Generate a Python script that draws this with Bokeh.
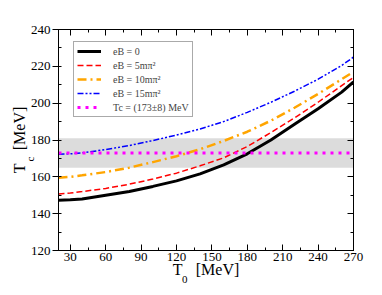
import numpy as np
from bokeh.plotting import figure
from bokeh.models import (Range1d, LinearAxis, SingleIntervalTicker, Legend, LegendItem,
                          BoxAnnotation, Label, CustomJSTickFormatter)
from bokeh.embed import file_html
from bokeh.resources import INLINE

# ---- data ----
T0 = [20, 30, 40, 60, 80, 100, 120, 140, 160, 180, 200, 220, 240, 260, 270]
tc_eB0 = [147.3, 147.5, 148.0, 150.0, 152.0, 154.8, 157.8, 161.6, 166.5, 172.5, 180.0, 188.5, 197.0, 206.0, 211.5]
tc_eB5 = [150.7, 151.2, 152.0, 153.7, 156.0, 158.8, 162.0, 166.0, 170.3, 176.5, 184.0, 192.0, 200.5, 209.5, 214.0]
tc_eB10 = [159.5, 160.0, 160.8, 162.6, 165.0, 168.0, 171.2, 175.0, 179.5, 184.5, 190.5, 197.5, 205.0, 213.0, 217.0]
tc_eB15 = [172.3, 172.5, 173.0, 174.8, 177.0, 179.7, 182.7, 186.0, 190.0, 195.0, 200.5, 206.5, 213.0, 220.5, 225.0]
tc_lattice = 173.0
tc_lattice_err = 8.0
labels = ["eB = 0", "eB = 5mπ²", "eB = 10mπ²", "eB = 15mπ²", "Tc = (173±8) MeV"]

FONT = "Liberation Serif"
W, H = 380, 293
GAP = "\u2002\u00a0\u200a"   # room for the subscript

p = figure(width=W, height=H, output_backend="svg", toolbar_location=None,
           x_range=Range1d(20, 270), y_range=Range1d(120, 240),
           min_border_left=58, min_border_right=W - 353, min_border_top=29, min_border_bottom=H - 250,
           x_axis_location=None, y_axis_location=None)
p.grid.visible = False
p.outline_line_color = "black"
p.outline_line_width = 1
p.background_fill_color = "white"

def make_axis(side, interval, labels_on, major_in, major_out, title=None, title_standoff=0):
    ax = LinearAxis(ticker=SingleIntervalTicker(interval=interval, num_minor_ticks=2))
    ax.axis_line_color = "black"
    ax.major_tick_line_color = "black"
    ax.minor_tick_line_color = "black"
    ax.major_tick_in = major_in
    ax.major_tick_out = major_out
    ax.minor_tick_in = 3
    ax.minor_tick_out = 0
    ax.major_label_text_font = FONT
    ax.major_label_text_font_size = "13px"
    ax.major_label_text_color = "black"
    ax.major_label_standoff = 2
    if not labels_on:
        ax.formatter = CustomJSTickFormatter(code="return '';")
    if title is not None:
        ax.axis_label = title
        ax.axis_label_text_font = FONT
        ax.axis_label_text_font_size = "16px"
        ax.axis_label_text_font_style = "normal"
        ax.axis_label_text_color = "black"
        ax.axis_label_standoff = title_standoff
    p.add_layout(ax, side)
    return ax

make_axis("below", 30, True, 6, 0, "T" + GAP + "[MeV]", -3)
make_axis("left", 20, True, 0, 6, "T" + GAP + "[MeV]", 0)
make_axis("above", 30, False, 6, 0)
make_axis("right", 20, False, 6, 0)

band = BoxAnnotation(bottom=tc_lattice - tc_lattice_err, top=tc_lattice + tc_lattice_err,
                     fill_color="#dcdcdc", fill_alpha=1.0, line_color=None, level="underlay")
p.add_layout(band)

r0 = p.line(T0, tc_eB0, line_color="black", line_width=3)
r1 = p.line(T0, tc_eB5, line_color="#ff0000", line_width=1.5, line_dash="6 3")
r2 = p.line(T0, tc_eB10, line_color="#ffa500", line_width=2.5, line_dash="9 4 2 4")
r3 = p.line(T0, tc_eB15, line_color="#0000ff", line_width=1.5, line_dash="6 2 2 2 2 2")
r4 = p.line([T0[0], T0[-1]], [tc_lattice, tc_lattice], line_color="#ff00ff", line_width=3, line_dash="3 5")

legend = Legend(items=[LegendItem(label=l, renderers=[r]) for l, r in zip(labels, [r0, r1, r2, r3, r4])],
                location=(15, 133), label_text_font=FONT, label_text_font_size="10px",
                label_height=12, glyph_height=12, glyph_width=24, spacing=2, padding=3,
                label_standoff=12, border_line_color="#555555", border_line_width=1,
                background_fill_color="white", background_fill_alpha=1.0, margin=0)
p.add_layout(legend, "center")

# subscripts of the axis titles, in canvas coordinates (put in the spare top/right panels)
p.add_layout(Label(x=181.5, y=278.5, x_units="canvas", y_units="canvas", text="0",
                   text_font=FONT, text_font_size="11px", text_color="black",
                   text_align="left", text_baseline="alphabetic"), "above")
p.add_layout(Label(x=29.5, y=161, x_units="canvas", y_units="canvas", text="c", angle=np.pi / 2,
                   text_font=FONT, text_font_size="11px", text_color="black",
                   text_align="left", text_baseline="alphabetic"), "right")

open("out.html", "w").write(file_html(p, INLINE))
